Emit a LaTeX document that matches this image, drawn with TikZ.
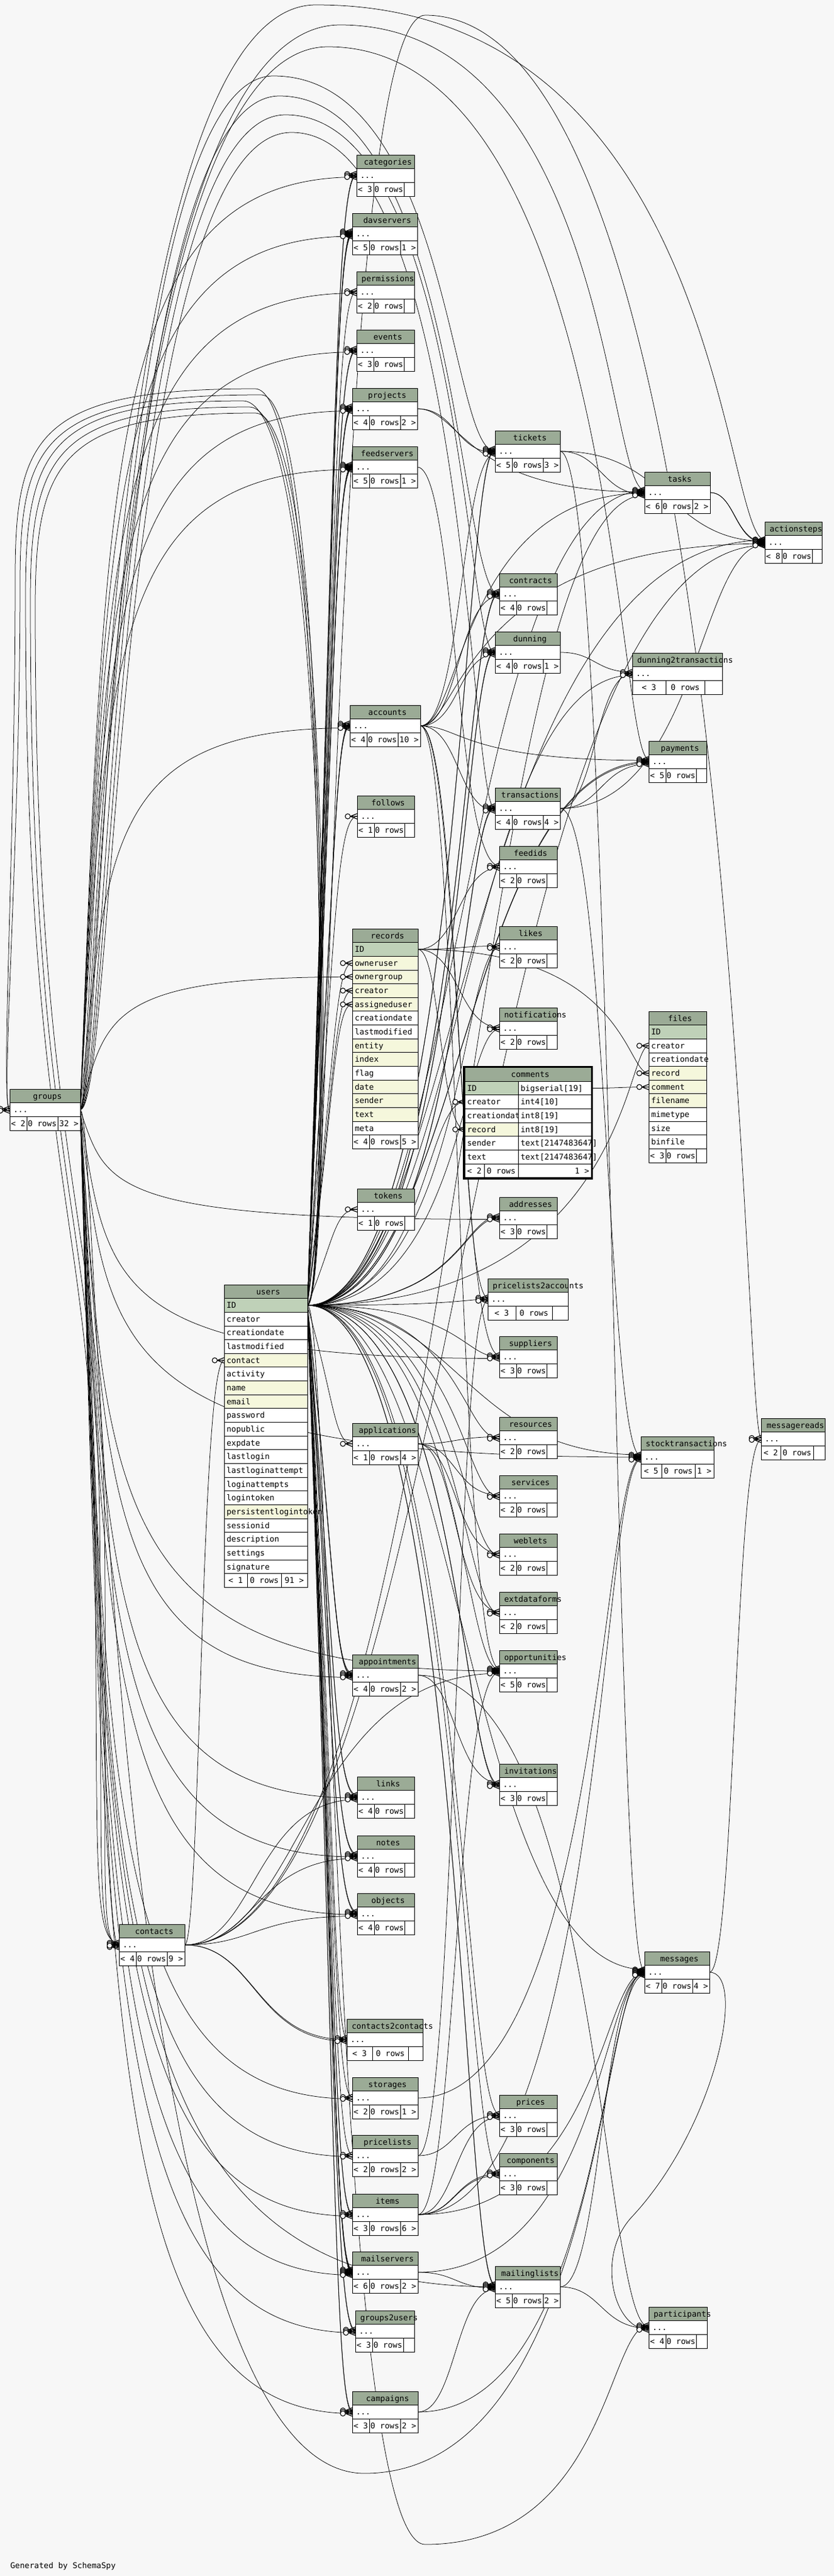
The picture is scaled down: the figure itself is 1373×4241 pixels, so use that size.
\documentclass[tikz,border=0pt]{standalone}
\usepackage{fontspec}
\setmonofont{DejaVu Sans Mono}
\usetikzlibrary{calc}
\definecolor{bgc}{HTML}{F7F7F7}
\definecolor{hdc}{HTML}{9BAB96}
\definecolor{pkc}{HTML}{BFD1B8}
\definecolor{ixc}{HTML}{F5F7DC}
\pgfdeclarelayer{bgl}
\pgfdeclarelayer{edges}
\pgfdeclarelayer{marks}
\pgfsetlayers{bgl,edges,main,marks}
\newcommand\tabfont{\fontsize{13.1pt}{15pt}\selectfont\ttfamily}
\tikzset{
  cellbox/.style={draw=black,line width=0.9pt,minimum height=22.65pt,inner sep=0pt,outer sep=0pt,anchor=north west},
  txt/.style={font=\tabfont,inner sep=0pt,outer sep=0pt},
  fkl/.style={line width=0.75pt,draw=black},
  pics/crowfoot/.style={code={
    \draw[line width=1.1pt,fill=bgc] (-15.5pt,0pt) circle[radius=4.2pt];
    \draw[line width=1.2pt] (-11.3pt,0pt) -- (0pt,4.5pt) (-11.3pt,0pt) -- (0pt,-4.5pt) (-11.3pt,0pt) -- (0pt,0pt);
  }}
}
\newcommand\htext[5]{%
  \node[txt,anchor=base west,text width=#4pt-8pt,align=center] (#1-ht) at (#2+8,#3+16) {#5};}
\newcommand\tbl[9]{%
  \node[cellbox,fill=hdc,minimum width=#4pt] (#1-h) at (#2,#3) {};
  \node[cellbox,fill=white,minimum width=#4pt] (#1-r) at (#2,#3+22.65) {};
  \node[cellbox,fill=white,minimum width=#8pt] (#1-fa) at (#2,#3+45.3) {};
  \node[cellbox,fill=white,minimum width=#9pt] (#1-fb) at (#2+#8,#3+45.3) {};
  \node[cellbox,fill=white,minimum width=#4pt-#8pt-#9pt] (#1-fc) at (#2+#8+#9,#3+45.3) {};
  \htext{#1}{#2}{#3}{#4}{#5}%
  \node[txt,anchor=base west] (#1-rt) at (#2+6,#3+38.65) {...};
  \node[txt,anchor=base] (#1-fat) at (#2+#8/2,#3+61.3) {#6};
  \node[txt,anchor=base] (#1-fbt) at (#2+#8+#9/2,#3+61.3) {0 rows};
  \node[txt,anchor=base] (#1-fct) at ({#2+#8+#9+(#4-#8-#9)/2},#3+61.3) {#7};}
\newcommand\frow[6]{%
  \node[cellbox,fill=#6,minimum width=#4pt] (#1) at (#2,#3) {};
  \node[txt,anchor=base west] (#1-t) at (#2+4,#3+16) {#5};}
\newcommand\fk[4]{%
  \begin{pgfonlayer}{edges}\draw[fkl] let \p1=(#1.east),\p2=([yshift=#3pt]#2.west) in (\p1) .. controls (#4pt,\y1) and (#4pt,\y2) .. (\p2);\end{pgfonlayer}%
  \begin{pgfonlayer}{marks}\pic at ([yshift=#3pt]#2.west) {crowfoot};\end{pgfonlayer}}
\newcommand\fkv[4]{%
  \begin{pgfonlayer}{edges}\draw[fkl] let \p1=(#1.east),\p2=([yshift=#3pt]#2.west),\n1={\y1+0.7*(\y2-\y1)} in (\p1) .. controls (#4pt,\n1) and (#4pt,\y2) .. (\p2);\end{pgfonlayer}%
  \begin{pgfonlayer}{marks}\pic at ([yshift=#3pt]#2.west) {crowfoot};\end{pgfonlayer}}
\newcommand\fkt[7]{%
  \begin{pgfonlayer}{edges}\draw[fkl] let \p1=(#1.east),\p2=([yshift=#3pt]#2.west) in (\p1) .. controls (#7pt,\y1) and (#7pt,-#4pt) .. (#5pt,-#4pt) .. controls (#6pt,-#4pt) and (#6pt,\y2) .. (\p2);\end{pgfonlayer}%
  \begin{pgfonlayer}{marks}\pic at ([yshift=#3pt]#2.west) {crowfoot};\end{pgfonlayer}}
\newcommand\edU[3]{\ifdim#3pt<600pt \fkv{users-ID}{#1}{#2}{#3}\else\fk{users-ID}{#1}{#2}{#3}\fi}
\newcommand\edG[3]{\fkv{groups-r}{#1}{#2}{175}}
\newcommand\edC[3]{\fk{contacts-r}{#1}{#2}{#3}}
\begin{document}
\begin{tikzpicture}[x=1pt,y=-1pt]
\useasboundingbox (0,0) rectangle (1373,4241);
\begin{pgfonlayer}{bgl}\fill[bgc] (0,0) rectangle (1373,4241);\end{pgfonlayer}
% ---------- column A
\tbl{categories}{587}{255}{95}{categories}{< 3}{}{28}{50}
\tbl{davservers}{580}{351}{107}{davservers}{< 5}{1 >}{28}{51}
\tbl{permissions}{587}{447}{95}{permissions}{< 2}{}{28}{50}
\tbl{events}{587}{543}{95}{events}{< 3}{}{28}{50}
\tbl{projects}{580}{639}{107}{projects}{< 4}{2 >}{28}{51}
\tbl{feedservers}{580}{735}{107}{feedservers}{< 5}{1 >}{28}{51}
\tbl{accounts}{576}{1161}{116}{accounts}{< 4}{10 >}{28}{51}
\tbl{follows}{588}{1310}{94}{follows}{< 1}{}{28}{50}
\tbl{tokens}{588}{1957}{94}{tokens}{< 1}{}{28}{50}
\tbl{applications}{580}{2343}{108}{applications}{< 1}{4 >}{28}{51}
\tbl{appointments}{580}{2724}{108}{appointments}{< 4}{2 >}{28}{51}
\tbl{links}{588}{2925}{94}{links}{< 4}{}{28}{50}
\tbl{notes}{588}{3022}{94}{notes}{< 4}{}{28}{50}
\tbl{objects}{588}{3117}{94}{objects}{< 4}{}{28}{50}
\tbl{c2c}{571}{3324}{125}{contacts2contacts}{< 3}{}{42}{59}
\tbl{storages}{580}{3420}{108}{storages}{< 2}{1 >}{28}{51}
\tbl{pricelists}{580}{3515}{108}{pricelists}{< 2}{2 >}{28}{51}
\tbl{items}{580}{3612}{108}{items}{< 3}{6 >}{28}{51}
\tbl{mailservers}{580}{3707}{108}{mailservers}{< 6}{2 >}{28}{51}
\tbl{groups2users}{585}{3804}{97}{groups2users}{< 3}{}{28}{51}
\tbl{campaigns}{580}{3937}{108}{campaigns}{< 3}{2 >}{28}{51}
\tbl{groups}{16}{1793}{116}{groups}{< 2}{32 >}{28}{51}
\tbl{contacts}{196}{3168}{108}{contacts}{< 4}{9 >}{28}{51}
% ---------- column B
\tbl{tickets}{815}{709}{107}{tickets}{< 5}{3 >}{28}{51}
\tbl{contracts}{822}{944}{95}{contracts}{< 4}{}{28}{50}
\tbl{dunning}{815}{1040}{107}{dunning}{< 4}{1 >}{28}{51}
\tbl{transactions}{815}{1297}{107}{transactions}{< 4}{4 >}{28}{51}
\tbl{feedids}{822}{1393}{95}{feedids}{< 2}{}{28}{50}
\tbl{likes}{822}{1525}{95}{likes}{< 2}{}{28}{50}
\tbl{notifications}{822}{1659}{95}{notifications}{< 2}{}{28}{50}
\tbl{addresses}{822}{1971}{95}{addresses}{< 3}{}{28}{50}
\tbl{p2a}{803}{2105}{132}{pricelists2accounts}{< 3}{}{46}{60}
\tbl{suppliers}{822}{2200}{95}{suppliers}{< 3}{}{28}{50}
\tbl{resources}{822}{2333}{95}{resources}{< 2}{}{28}{50}
\tbl{services}{822}{2429}{95}{services}{< 2}{}{28}{50}
\tbl{weblets}{822}{2525}{95}{weblets}{< 2}{}{28}{50}
\tbl{extdataforms}{822}{2621}{95}{extdataforms}{< 2}{}{28}{50}
\tbl{opportunities}{822}{2717}{95}{opportunities}{< 5}{}{28}{50}
\tbl{invitations}{822}{2904}{95}{invitations}{< 3}{}{28}{50}
\tbl{prices}{822}{3449}{95}{prices}{< 3}{}{28}{50}
\tbl{components}{822}{3545}{95}{components}{< 3}{}{28}{50}
\tbl{mailinglists}{815}{3731}{107}{mailinglists}{< 5}{2 >}{28}{51}
% ---------- column C / D
\tbl{tasks}{1061}{777}{108}{tasks}{< 6}{2 >}{28}{51}
\tbl{d2t}{1041}{1075}{148}{dunning2transactions}{< 3}{}{55}{64}
\tbl{payments}{1068}{1220}{95}{payments}{< 5}{}{28}{50}
\tbl{stocktransactions}{1055}{2365}{120}{stocktransactions}{< 5}{1 >}{34}{55}
\tbl{messages}{1061}{3213}{107}{messages}{< 7}{4 >}{28}{51}
\tbl{participants}{1068}{3798}{96}{participants}{< 4}{}{28}{50}
\tbl{actionsteps}{1259}{859}{94}{actionsteps}{< 8}{}{28}{50}
\tbl{messagereads}{1253}{2335}{105}{messagereads}{< 2}{}{32}{54}
% ---------- users
\node[cellbox,fill=hdc,minimum width=137pt] (users-h) at (369,2115) {};
\htext{users}{369}{2115}{137}{users}
\foreach \fn/\fc [count=\i] in {ID/pkc,creator/white,creationdate/white,lastmodified/white,contact/ixc,activity/white,name/ixc,email/ixc,password/white,nopublic/white,expdate/white,lastlogin/white,lastloginattempt/white,loginattempts/white,logintoken/white,persistentlogintoken/ixc,sessionid/white,description/white,settings/white,signature/white}
  {\frow{users-\fn}{369}{2115+22.65*\i}{137}{\fn}{\fc}}
\node[cellbox,fill=white,minimum width=38pt] (users-fa) at (369,2590.65) {};
\node[cellbox,fill=white,minimum width=56pt] (users-fb) at (407,2590.65) {};
\node[cellbox,fill=white,minimum width=43pt] (users-fc) at (463,2590.65) {};
\node[txt,anchor=base] (users-fat) at (388,2606.65) {< 1};
\node[txt,anchor=base] (users-fbt) at (435,2606.65) {0 rows};
\node[txt,anchor=base] (users-fct) at (484.5,2606.65) {91 >};
% ---------- records
\node[cellbox,fill=hdc,minimum width=108pt] (records-h) at (580,1529) {};
\htext{records}{580}{1529}{108}{records}
\foreach \fn/\fc [count=\i] in {ID/pkc,owneruser/ixc,ownergroup/ixc,creator/ixc,assigneduser/ixc,creationdate/white,lastmodified/white,entity/ixc,index/ixc,flag/white,date/ixc,sender/ixc,text/ixc,meta/white}
  {\frow{records-\fn}{580}{1529+22.65*\i}{108}{\fn}{\fc}}
\node[cellbox,fill=white,minimum width=28pt] (records-fa) at (580,1868.75) {};
\node[cellbox,fill=white,minimum width=51pt] (records-fb) at (608,1868.75) {};
\node[cellbox,fill=white,minimum width=29pt] (records-fc) at (659,1868.75) {};
\node[txt,anchor=base] (records-fat) at (594,1884.75) {< 4};
\node[txt,anchor=base] (records-fbt) at (633.5,1884.75) {0 rows};
\node[txt,anchor=base] (records-fct) at (673.5,1884.75) {5 >};
% ---------- files
\node[cellbox,fill=hdc,minimum width=95pt] (files-h) at (1068,1665) {};
\htext{files}{1068}{1665}{95}{files}
\foreach \fn/\fc [count=\i] in {ID/pkc,creator/white,creationdate/white,record/ixc,comment/ixc,filename/ixc,mimetype/white,size/white,binfile/white}
  {\frow{files-\fn}{1068}{1665+22.65*\i}{95}{\fn}{\fc}}
\node[cellbox,fill=white,minimum width=28pt] (files-fa) at (1068,1891.5) {};
\node[cellbox,fill=white,minimum width=50pt] (files-fb) at (1096,1891.5) {};
\node[cellbox,fill=white,minimum width=17pt] (files-fc) at (1146,1891.5) {};
\node[txt,anchor=base] (files-fat) at (1082,1907.5) {< 3};
\node[txt,anchor=base] (files-fbt) at (1121,1907.5) {0 rows};
% ---------- comments
\node[cellbox,fill=hdc,minimum width=208pt] (comments-h) at (765,1757.5) {};
\htext{comments}{765}{1757.5}{208}{comments}
\frow{comments-ID}{765}{1780.15}{88}{ID}{pkc}
\frow{comments-IDt}{853}{1780.15}{120}{bigserial[19]}{white}
\frow{comments-creator}{765}{1802.8}{88}{creator}{white}
\frow{comments-creatort}{853}{1802.8}{120}{int4[10]}{white}
\frow{comments-creationdate}{765}{1825.45}{88}{creationdate}{white}
\frow{comments-creationdatet}{853}{1825.45}{120}{int8[19]}{white}
\frow{comments-record}{765}{1848.1}{88}{record}{ixc}
\frow{comments-recordt}{853}{1848.1}{120}{int8[19]}{white}
\frow{comments-sender}{765}{1870.75}{88}{sender}{white}
\frow{comments-sendert}{853}{1870.75}{120}{text[2147483647]}{white}
\frow{comments-text}{765}{1893.4}{88}{text}{white}
\frow{comments-textt}{853}{1893.4}{120}{text[2147483647]}{white}
\node[cellbox,fill=white,minimum width=32pt] (comments-fa) at (765,1916.05) {};
\node[cellbox,fill=white,minimum width=56pt] (comments-fb) at (797,1916.05) {};
\node[cellbox,fill=white,minimum width=120pt] (comments-fc) at (853,1916.05) {};
\node[txt,anchor=base] (comments-fat) at (781,1932.05) {< 2};
\node[txt,anchor=base] (comments-fbt) at (825,1932.05) {0 rows};
\node[txt,anchor=base east] (comments-fct) at (970,1932.05) {1 >};
\draw[line width=3pt] (763.5,1756) rectangle (974.5,1940.2);
\node[txt,anchor=base west] (gen) at (17,4228) {Generated by SchemaSpy};
% ================= edges: column A targets
\edU{categories-r}{2.5}{551}\edU{categories-r}{0}{551}\edG{categories-r}{-2.5}{150}
\edU{davservers-r}{4}{551}\edU{davservers-r}{2}{551}\edU{davservers-r}{0}{551}\edU{davservers-r}{-2}{551}\edG{davservers-r}{-4}{150}
\edU{permissions-r}{1.5}{551}\edG{permissions-r}{-1.5}{150}
\edU{events-r}{2.5}{551}\edU{events-r}{0}{551}\edG{events-r}{-2.5}{150}
\edU{projects-r}{3.5}{551}\edU{projects-r}{1.2}{551}\edU{projects-r}{-1.2}{551}\edG{projects-r}{-3.5}{150}
\edU{feedservers-r}{4}{551}\edU{feedservers-r}{2}{551}\edU{feedservers-r}{0}{551}\edU{feedservers-r}{-2}{551}\edG{feedservers-r}{-4}{150}
\edU{accounts-r}{3.5}{551}\edU{accounts-r}{1.2}{551}\edU{accounts-r}{-1.2}{551}\edG{accounts-r}{-3.5}{150}
\edU{follows-r}{0}{551}
\edU{records-owneruser}{0}{551}\edG{records-ownergroup}{0}{150}\edU{records-creator}{0}{551}\edU{records-assigneduser}{0}{551}
\edU{tokens-r}{0}{551}
\edU{applications-r}{0}{551}
\edU{appointments-r}{3.5}{551}\edU{appointments-r}{1.2}{551}\edU{appointments-r}{-1.2}{551}\edG{appointments-r}{-3.5}{150}
\edU{links-r}{3.5}{551}\edU{links-r}{1.2}{551}\edG{links-r}{-1.2}{150}\edC{links-r}{-3.5}{420}
\edU{notes-r}{3.5}{551}\edU{notes-r}{1.2}{551}\edG{notes-r}{-1.2}{150}\edC{notes-r}{-3.5}{420}
\edU{objects-r}{3.5}{551}\edU{objects-r}{1.2}{551}\edG{objects-r}{-1.2}{150}\edC{objects-r}{-3.5}{420}
\edU{c2c-r}{2.5}{551}\edC{c2c-r}{0}{420}\edC{c2c-r}{-2.5}{420}
\edU{storages-r}{1.5}{551}\edG{storages-r}{-1.5}{150}
\edU{pricelists-r}{1.5}{551}\edG{pricelists-r}{-1.5}{150}
\edU{items-r}{2.5}{551}\edU{items-r}{0}{551}\edG{items-r}{-2.5}{150}
\edU{mailservers-r}{4.5}{551}\edU{mailservers-r}{2.7}{551}\edU{mailservers-r}{0.9}{551}\edU{mailservers-r}{-0.9}{551}\edU{mailservers-r}{-2.7}{551}\edG{mailservers-r}{-4.5}{150}
\edU{groups2users-r}{2.5}{551}\edU{groups2users-r}{0}{551}\edG{groups2users-r}{-2.5}{150}
\edU{campaigns-r}{2.5}{551}\edU{campaigns-r}{0}{551}\edG{campaigns-r}{-2.5}{150}
\edG{contacts-r}{-3.5}{150}
\edC{users-contact}{0}{330}
% ================= column B targets
\edU{tickets-r}{4}{760}\edU{tickets-r}{2}{760}\fkt{groups-r}{tickets-r}{0}{125}{450}{740}{170}\fk{projects-r}{tickets-r}{-2}{750}\fk{accounts-r}{tickets-r}{-4}{760}
\edU{contracts-r}{3.5}{760}\edU{contracts-r}{1.2}{760}\fkt{groups-r}{contracts-r}{-1.2}{158}{460}{755}{178}\fk{accounts-r}{contracts-r}{-3.5}{755}
\edU{dunning-r}{3.5}{760}\edU{dunning-r}{1.2}{760}\fkt{groups-r}{dunning-r}{-1.2}{189}{470}{765}{184}\fk{accounts-r}{dunning-r}{-3.5}{755}
\edU{transactions-r}{3.5}{760}\edU{transactions-r}{1.2}{760}\fkt{groups-r}{transactions-r}{-1.2}{218}{480}{772}{190}\fk{accounts-r}{transactions-r}{-3.5}{755}
\fk{feedservers-r}{feedids-r}{1.5}{750}\fk{records-ID}{feedids-r}{-1.5}{755}
\fk{records-ID}{likes-r}{1.5}{755}\edU{likes-r}{-1.5}{760}
\fk{records-ID}{notifications-r}{1.5}{755}\edU{notifications-r}{-1.5}{760}
\edU{comments-creator}{0}{700}\fk{records-ID}{comments-record}{0}{725}
\edU{addresses-r}{2.5}{760}\edU{addresses-r}{0}{760}\edG{addresses-r}{-2.5}{150}
\fk{accounts-r}{p2a-r}{2.5}{755}\edU{p2a-r}{0}{760}\fk{pricelists-r}{p2a-r}{-2.5}{750}
\fk{accounts-r}{suppliers-r}{2.5}{755}\edU{suppliers-r}{0}{760}\edG{suppliers-r}{-2.5}{150}
\fk{applications-r}{resources-r}{1.5}{750}\edU{resources-r}{-1.5}{760}
\fk{applications-r}{services-r}{1.5}{750}\edU{services-r}{-1.5}{760}
\fk{applications-r}{weblets-r}{1.5}{750}\edU{weblets-r}{-1.5}{760}
\fk{applications-r}{extdataforms-r}{1.5}{750}\edU{extdataforms-r}{-1.5}{760}
\fk{accounts-r}{opportunities-r}{4}{755}\edU{opportunities-r}{2}{760}\edG{opportunities-r}{0}{150}\fk{items-r}{opportunities-r}{-2}{750}\edC{opportunities-r}{-4}{500}
\fk{appointments-r}{invitations-r}{2.5}{750}\edU{invitations-r}{0}{760}\edU{invitations-r}{-2.5}{760}
\edU{prices-r}{2.5}{760}\fk{pricelists-r}{prices-r}{0}{750}\fk{items-r}{prices-r}{-2.5}{750}
\edU{components-r}{2.5}{760}\fk{items-r}{components-r}{0}{750}\fk{items-r}{components-r}{-2.5}{750}
\edU{mailinglists-r}{4}{760}\edU{mailinglists-r}{2}{760}\edG{mailinglists-r}{0}{150}\fk{mailservers-r}{mailinglists-r}{-2}{750}\fk{campaigns-r}{mailinglists-r}{-4}{750}
% ================= column C targets
\fkt{groups-r}{tasks-r}{4.5}{41}{560}{1000}{160}\edU{tasks-r}{2.7}{760}\fk{projects-r}{tasks-r}{0.9}{760}\fk{accounts-r}{tasks-r}{-0.9}{760}\fk{tickets-r}{tasks-r}{-2.7}{990}\edC{tasks-r}{-4.5}{760}
\fk{dunning-r}{d2t-r}{2.5}{980}\fk{transactions-r}{d2t-r}{0}{980}\edU{d2t-r}{-2.5}{760}
\fkt{groups-r}{payments-r}{4}{77}{540}{1015}{165}\fk{accounts-r}{payments-r}{2}{760}\edU{payments-r}{0}{760}\edU{payments-r}{-2}{760}\fk{transactions-r}{payments-r}{-4}{990}
\edU{files-creator}{0}{1030}\fk{records-ID}{files-record}{0}{1030}\fk{comments-IDt}{files-comment}{0}{1020}
\edU{stocktransactions-r}{4}{760}\fk{transactions-r}{stocktransactions-r}{2}{1000}\edG{stocktransactions-r}{0}{150}\fk{storages-r}{stocktransactions-r}{-2}{990}\fk{items-r}{stocktransactions-r}{-4}{990}
\edU{messages-r}{4.5}{760}\fkt{groups-r}{messages-r}{3}{4072}{600}{990}{165}\fk{tickets-r}{messages-r}{1.5}{1010}\fk{items-r}{messages-r}{0}{990}\fk{mailservers-r}{messages-r}{-1.5}{990}\fk{mailinglists-r}{messages-r}{-3}{990}\fk{campaigns-r}{messages-r}{-4.5}{990}
\fkt{users-ID}{participants-r}{3.5}{4189}{700}{1000}{545}\fk{appointments-r}{participants-r}{1.2}{990}\fk{mailinglists-r}{participants-r}{-1.2}{990}
% ================= column D targets
\fkt{groups-r}{actionsteps-r}{4.9}{8}{520}{1190}{155}\edU{actionsteps-r}{3.5}{760}\fk{tickets-r}{actionsteps-r}{2.1}{1100}\fk{tasks-r}{actionsteps-r}{0.7}{1210}\fk{tasks-r}{actionsteps-r}{-0.7}{1210}\fk{accounts-r}{actionsteps-r}{-2.1}{760}\fk{transactions-r}{actionsteps-r}{-3.5}{1150}\edC{actionsteps-r}{-4.9}{760}
\fkt{users-ID}{messagereads-r}{1.5}{25}{700}{1222}{548}\fk{messages-r}{messagereads-r}{-1.5}{1210}
% ================= routed around
\begin{pgfonlayer}{edges}
\draw[fkl] (users-ID.east) .. controls (540,2148) and (545,640) .. (420,640) .. controls (60,640) and (25,720) .. (25,950) .. controls (25,1400) and (0,1825.5) .. ([yshift=1.5pt]groups-r.west);
\draw[fkl] (users-ID.east) .. controls (542,2148) and (547,650) .. (430,650) .. controls (70,650) and (33,730) .. (33,960) .. controls (33,1400) and (0,1828.5) .. ([yshift=-1.5pt]groups-r.west);
\draw[fkl] (users-ID.east) .. controls (543,2148) and (550,660) .. (400,660) .. controls (80,660) and (42,740) .. (42,980) .. controls (42,1900) and (150,2000) .. (156,2500) .. controls (162,3050) and (150,3198.5) .. ([yshift=3.5pt]contacts-r.west);
\draw[fkl] (users-ID.east) .. controls (545,2148) and (552,670) .. (410,670) .. controls (90,670) and (50,750) .. (50,990) .. controls (50,1900) and (158,2000) .. (164,2500) .. controls (170,3050) and (155,3200.8) .. ([yshift=1.2pt]contacts-r.west);
\draw[fkl] (users-ID.east) .. controls (547,2148) and (554,680) .. (420,680) .. controls (100,680) and (58,760) .. (58,1000) .. controls (58,1900) and (166,2000) .. (172,2500) .. controls (178,3050) and (160,3203.2) .. ([yshift=-1.2pt]contacts-r.west);
\draw[fkl] (messages-r.east) .. controls (1230,3247) and (1180,3500) .. (1040,3650) .. controls (980,3714) and (1010,3835.5) .. ([yshift=-3.5pt]participants-r.west);
\end{pgfonlayer}
\begin{pgfonlayer}{marks}
\pic at ([yshift=1.5pt]groups-r.west) {crowfoot};
\pic at ([yshift=-1.5pt]groups-r.west) {crowfoot};
\pic at ([yshift=3.5pt]contacts-r.west) {crowfoot};
\pic at ([yshift=1.2pt]contacts-r.west) {crowfoot};
\pic at ([yshift=-1.2pt]contacts-r.west) {crowfoot};
\pic at ([yshift=-3.5pt]participants-r.west) {crowfoot};
\end{pgfonlayer}
\end{tikzpicture}
\end{document}
